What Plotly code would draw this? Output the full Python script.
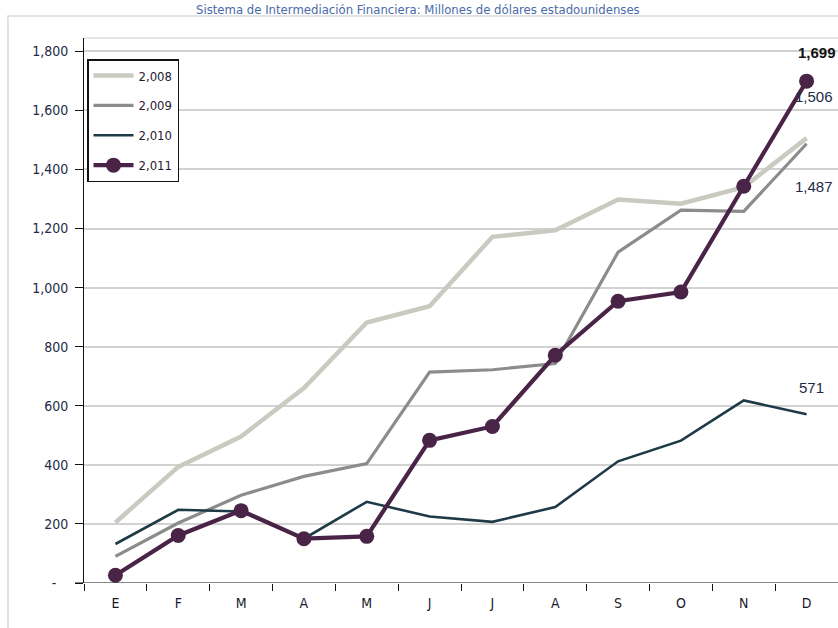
import plotly.graph_objects as go

# Monthly series (millions of US dollars)
months = ["E", "F", "M", "A", "M", "J", "J", "A", "S", "O", "N", "D"]
s2008 = [205, 393, 496, 660, 882, 937, 1172, 1194, 1298, 1284, 1340, 1506]
s2009 = [90, 203, 297, 361, 404, 714, 722, 743, 1120, 1262, 1258, 1487]
s2010 = [132, 248, 242, 150, 275, 225, 207, 257, 412, 482, 618, 571]
s2011 = [26, 161, 245, 150, 158, 483, 530, 771, 954, 985, 1343, 1699]
y_ticks = [0, 200, 400, 600, 800, 1000, 1200, 1400, 1600, 1800]

title_text = "Sistema de Intermediación Financiera: Millones de dólares estadounidenses"

x = list(range(len(months)))
NARROW = "DejaVu Sans Condensed, Liberation Sans Narrow, sans-serif"

series = [
    ("2,008", s2008, "#c9cac0", 4.5, False),
    ("2,009", s2009, "#8c8c8a", 3.2, False),
    ("2,010", s2010, "#1d3a47", 2.6, False),
    ("2,011", s2011, "#4a2446", 4.2, True),
]

fig = go.Figure()
for name, vals, color, width, markers in series:
    fig.add_trace(go.Scatter(
        x=x, y=vals, name=name, legendgroup=name,
        mode="lines+markers" if markers else "lines",
        line=dict(color=color, width=width),
        marker=dict(size=15, color=color) if markers else None,
    ))

def fmt(v):
    return f"{v:,}"

# End-of-year value labels
end_labels = [
    (s2011[-1], 29, 10, True),
    (s2008[-1], 42, 7, False),
    (s2009[-1], -43, 7, False),
    (s2010[-1], 27, 5, False),
]
annotations = []
for val, ys, xs, bold in end_labels:
    txt = fmt(val)
    annotations.append(dict(
        x=x[-1], y=val, xref="x", yref="y", text=f"<b>{txt}</b>" if bold else txt,
        showarrow=False, yshift=ys, xshift=xs,
        font=dict(family="Liberation Sans, Arial, sans-serif", size=15,
                  color="#111111" if bold else "#1e2b48"),
    ))

annotations.append(dict(
    x=(418 - 84) / 754, y=(583 - 1) / 545, xref="paper", yref="paper",
    text=title_text, showarrow=False, xanchor="center", yanchor="top",
    borderpad=0,
    font=dict(family=NARROW, size=13, color="#4a6aa8"),
))

tick_text = ["-\u00a0\u00a0\u00a0"] + [fmt(v) for v in y_ticks[1:]]

fig.update_layout(
    width=838, height=628,
    margin=dict(l=84, r=0, t=38, b=45),
    paper_bgcolor="white", plot_bgcolor="white",
    showlegend=True,
    legend=dict(
        x=(87 - 84) / 754, y=(583 - 59) / 545, xanchor="left", yanchor="top",
        bgcolor="white", bordercolor="#111111", borderwidth=1.5,
        font=dict(family=NARROW, size=13, color="#2a1a33"),
        tracegroupgap=10, itemwidth=40,
    ),
    xaxis=dict(
        range=[-0.5, 11.5], tickmode="array", tickvals=x, ticktext=months,
        ticks="", showgrid=False, zeroline=False,
        showline=False,
        tickfont=dict(family=NARROW, size=14, color="#1a1a2a"),
        minor=dict(tick0=-0.5, dtick=1, ticks="outside", ticklen=7,
                   tickcolor="#111111", tickwidth=1, showgrid=False),
        ticklabelstandoff=10,
    ),
    yaxis=dict(
        range=[0, 1845], tickmode="array", tickvals=y_ticks, ticktext=tick_text,
        ticks="outside", ticklen=8, tickcolor="#111111", tickwidth=1,
        showgrid=True, gridcolor="#d2d2d2", gridwidth=1.5,
        zeroline=False, showline=True, linecolor="#111111", linewidth=1,
        tickfont=dict(family=NARROW, size=14, color="#1e2b48"),
        ticklabelstandoff=4,
    ),
    annotations=annotations,
    shapes=[
        # outer chart frame
        dict(type="rect", xref="paper", yref="paper",
             x0=(8 - 84) / 754, x1=1.05, y0=-0.2, y1=(583 - 16) / 545,
             line=dict(color="#dadada", width=1.5), layer="below"),
        # plot area top edge
        dict(type="line", xref="paper", yref="paper", x0=0, x1=1, y0=1, y1=1,
             line=dict(color="#dedede", width=1.5), layer="below"),
        # category axis line
        dict(type="line", xref="paper", yref="y", x0=-0.012, x1=1, y0=0, y1=0,
             line=dict(color="#111111", width=1.2)),
    ],
)

fig.write_html("out.html")
